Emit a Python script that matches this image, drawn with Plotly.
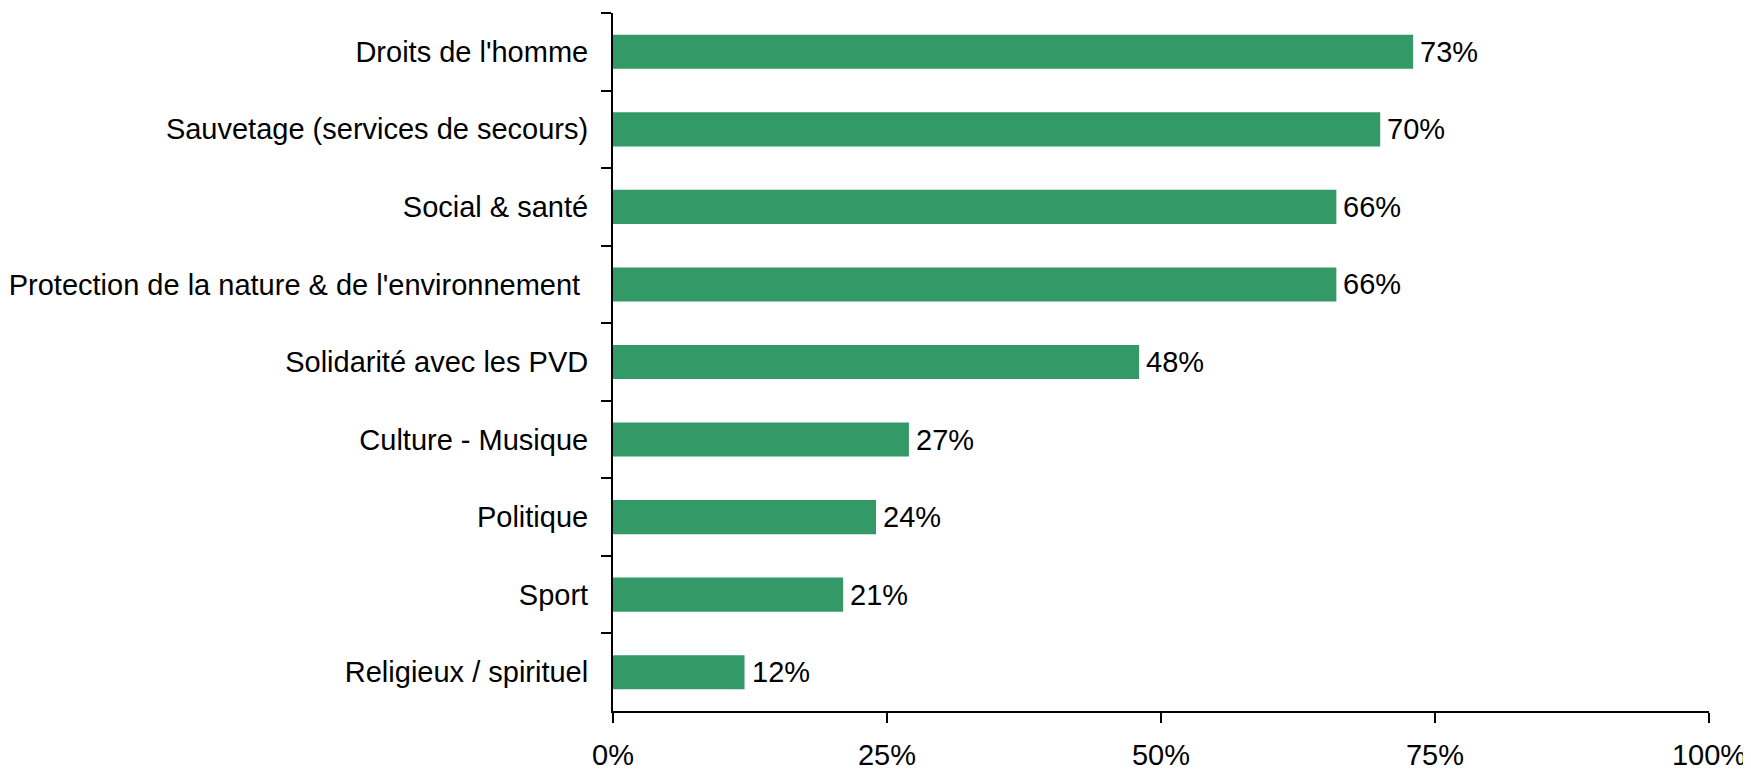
import plotly.graph_objects as go

categories = ["Droits de l'homme", "Sauvetage (services de secours)", "Social & santé",
              "Protection de la nature & de l'environnement ", "Solidarité avec les PVD",
              "Culture - Musique", "Politique", "Sport", "Religieux / spirituel"]
values = [73, 70, 66, 66, 48, 27, 24, 21, 12]
value_labels = ["73%", "70%", "66%", "66%", "48%", "27%", "24%", "21%", "12%"]
x_tickvals = [0, 25, 50, 75, 100]
x_ticktext = ["0%", "25%", "50%", "75%", "100%"]

FONT = "Liberation Sans, Arial, sans-serif"
FS = 29

fig = go.Figure(go.Bar(
    x=values, y=categories, orientation="h",
    marker=dict(color="#339966", line=dict(width=0)),
    cliponaxis=False,
))

for c, v, t in zip(categories, values, value_labels):
    fig.add_annotation(x=v, y=c, text=t, xanchor="left", yanchor="middle", xshift=5,
                       showarrow=False, font=dict(family=FONT, size=FS, color="black"))

fig.update_layout(
    width=1751, height=770,
    margin=dict(l=605, r=50, t=5, b=67, autoexpand=False),
    plot_bgcolor="white", paper_bgcolor="white",
    bargap=0.56, showlegend=False,
    font=dict(family=FONT, size=FS, color="black"),
)
fig.update_xaxes(range=[0, 100], tickvals=x_tickvals, ticktext=x_ticktext,
                 showgrid=False, zeroline=False, showline=True, linecolor="black", linewidth=2,
                 ticks="outside", ticklen=10, tickwidth=2, tickcolor="black",
                 ticklabelstandoff=7,
                 tickfont=dict(family=FONT, size=FS, color="black"))
fig.update_yaxes(categoryorder="array", categoryarray=categories, range=[8.5, -0.5],
                 showgrid=False, zeroline=False, showline=True, linecolor="black", linewidth=2,
                 ticks="outside", ticklen=10, tickwidth=2, tickcolor="black", tickson="boundaries",
                 ticklabelstandoff=17,
                 tickfont=dict(family=FONT, size=FS, color="black"))

fig.write_html("out.html")
